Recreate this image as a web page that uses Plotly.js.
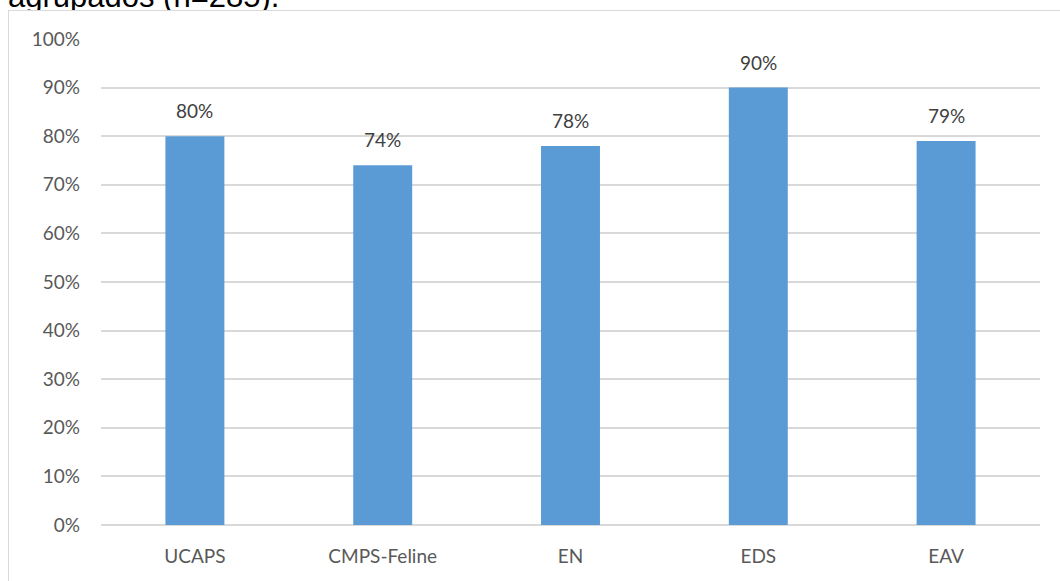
<!DOCTYPE html>
<html>
<head>
<meta charset="utf-8">
<script src="https://cdn.plot.ly/plotly-3.0.1.min.js"></script>
<style>
  html, body { margin: 0; padding: 0; background: #ffffff; width: 1060px; height: 581px; overflow: hidden; }
  #caption { position: absolute; left: 8px; top: -19px; font-family: "Liberation Sans", Arial, sans-serif; font-size: 31px; line-height: 31px; color: #000; white-space: nowrap; z-index: 1; }
  #frame { position: absolute; left: 8px; top: 10px; width: 1060px; height: 600px; background: #ffffff; border-left: 1px solid #d9d9d9; border-top: 1px solid #d9d9d9; z-index: 2; }
  #chart { position: absolute; left: 0; top: 0; width: 1060px; height: 581px; z-index: 3; }
</style>
</head>
<body>
<div id="caption">agrupados (n=285).</div>
<div id="frame"></div>
<div id="chart"></div>
<script>
const categories = ["UCAPS", "CMPS-Feline", "EN", "EDS", "EAV"];
const values = [0.80, 0.74, 0.78, 0.90, 0.79];
const valueLabels = ["80%", "74%", "78%", "90%", "79%"];
const yTickValues = [0, 0.1, 0.2, 0.3, 0.4, 0.5, 0.6, 0.7, 0.8, 0.9, 1.0];
const yTickLabels = ["0%", "10%", "20%", "30%", "40%", "50%", "60%", "70%", "80%", "90%", "100%"];

const font = "Lato, 'Open Sans', sans-serif";

const trace = {
  type: "bar",
  x: categories,
  y: values,
  marker: { color: "#5B9BD5" },
  hoverinfo: "none"
};

const annotations = categories.map((c, i) => ({
  x: c, y: values[i], text: valueLabels[i],
  xref: "x", yref: "y", showarrow: false,
  yanchor: "bottom", yshift: 12,
  font: { family: font, size: 19, color: "#404040" }
}));

const layout = {
  width: 1060, height: 581,
  margin: { l: 101, r: 20, t: 39, b: 56 },
  paper_bgcolor: "rgba(0,0,0,0)",
  plot_bgcolor: "rgba(0,0,0,0)",
  showlegend: false,
  bargap: 0.686,
  font: { family: font, size: 19, color: "#595959" },
  xaxis: {
    type: "category",
    showgrid: false, zeroline: false, showline: false,
    ticks: "", ticklabelstandoff: 18,
    tickfont: { family: font, size: 19, color: "#595959" }
  },
  yaxis: {
    range: [0, 1],
    tickvals: yTickValues, ticktext: yTickLabels,
    showgrid: true, gridcolor: "#d9d9d9", gridwidth: 2,
    zeroline: true, zerolinecolor: "#d9d9d9", zerolinewidth: 2,
    showline: false, ticks: "", ticklabelstandoff: 20,
    tickfont: { family: font, size: 19, color: "#595959" }
  },
  annotations: annotations
};

Plotly.newPlot("chart", [trace], layout, { displayModeBar: false, staticPlot: true });
</script>
</body>
</html>
